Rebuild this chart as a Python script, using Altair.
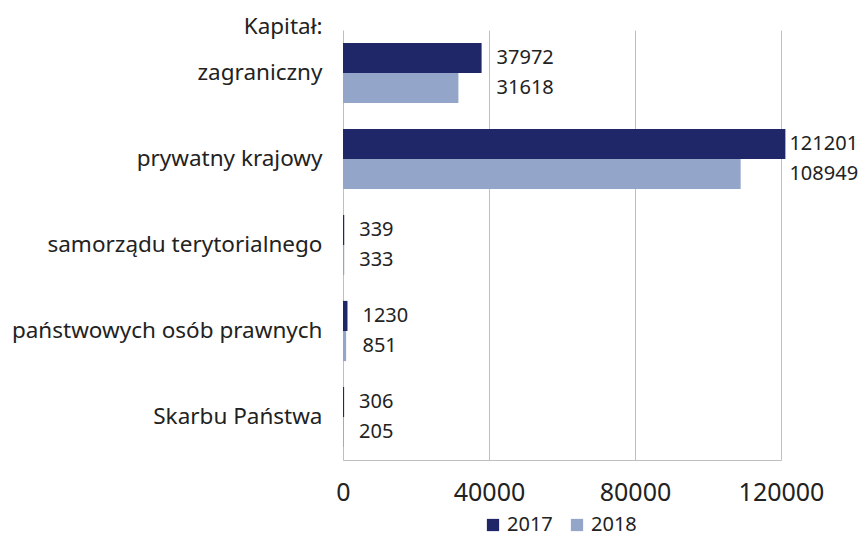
import altair as alt
import pandas as pd

categories = ["zagraniczny", "prywatny krajowy", "samorządu terytorialnego",
              "państwowych osób prawnych", "Skarbu Państwa"]
years = ["2017", "2018"]
values_2017 = [37972, 121201, 339, 1230, 306]
values_2018 = [31618, 108949, 333, 851, 205]
x_ticks = [0, 40000, 80000, 120000]
x_max = 120000
colors = ["#1f2768", "#93a6c9"]

rows = []
for c, a, b in zip(categories, values_2017, values_2018):
    rows.append({"cat": c, "year": years[0], "value": a})
    rows.append({"cat": c, "year": years[1], "value": b})
df = pd.DataFrame(rows)

FONT = "Noto Sans"
TXT = "#222222"

base = alt.Chart(df).transform_joinaggregate(
    maxv="max(value)", groupby=["cat"]
).transform_calculate(
    lx=f"min(datum.maxv, {x_max} * 0.985)"
)

y_enc = alt.Y("cat:N", sort=categories,
              scale=alt.Scale(paddingInner=0.3, paddingOuter=0.15),
              axis=alt.Axis(title="Kapitał:", titleAngle=0, titleAlign="right",
                            titleBaseline="alphabetic", titleX=-21, titleY=3,
                            titleFont=FONT, titleFontSize=22.5, titleFontWeight="normal",
                            titleColor=TXT,
                            labelFont=FONT, labelFontSize=22.5, labelColor=TXT,
                            labelLimit=400,
                            labelPadding=21, ticks=False, domain=False, grid=False))

yoff = alt.YOffset("year:N", sort=years, scale=alt.Scale(paddingInner=0, paddingOuter=0))

bars = base.mark_bar(clip=False).encode(
    x=alt.X("value:Q", scale=alt.Scale(domain=[0, x_max], nice=False),
            axis=alt.Axis(values=x_ticks, title=None, format="d",
                          labelFont=FONT, labelFontSize=25, labelColor=TXT,
                          labelFlush=False, labelPadding=20,
                          ticks=False, domain=True, domainColor="#bfbfbf",
                          grid=True, gridColor="#bfbfbf", gridWidth=1)),
    y=y_enc,
    yOffset=yoff,
    color=alt.Color("year:N", sort=years,
                    scale=alt.Scale(domain=years, range=colors),
                    legend=alt.Legend(title=None, orient="none", direction="horizontal",
                                      legendX=140, legendY=485, symbolType="square",
                                      symbolSize=150, symbolStrokeWidth=0,
                                      labelFont=FONT, labelFontSize=20, labelColor=TXT,
                                      columnPadding=14, labelOffset=4)),
)

labels = base.mark_text(align="left", baseline="middle", dx=15, font=FONT,
                        fontSize=20, color=TXT, clip=False).encode(
    x=alt.X("lx:Q"),
    y=alt.Y("cat:N", sort=categories),
    yOffset=yoff,
    text=alt.Text("value:Q", format="d"),
)

chart = alt.layer(bars, labels).properties(
    width=438, height=430,
    autosize=alt.AutoSizeParams(type="none"),
    padding={"left": 335, "top": 22, "right": 79, "bottom": 81},
).configure_view(stroke=None)

chart.save("out.html", embed_options={"renderer": "svg", "actions": False})
